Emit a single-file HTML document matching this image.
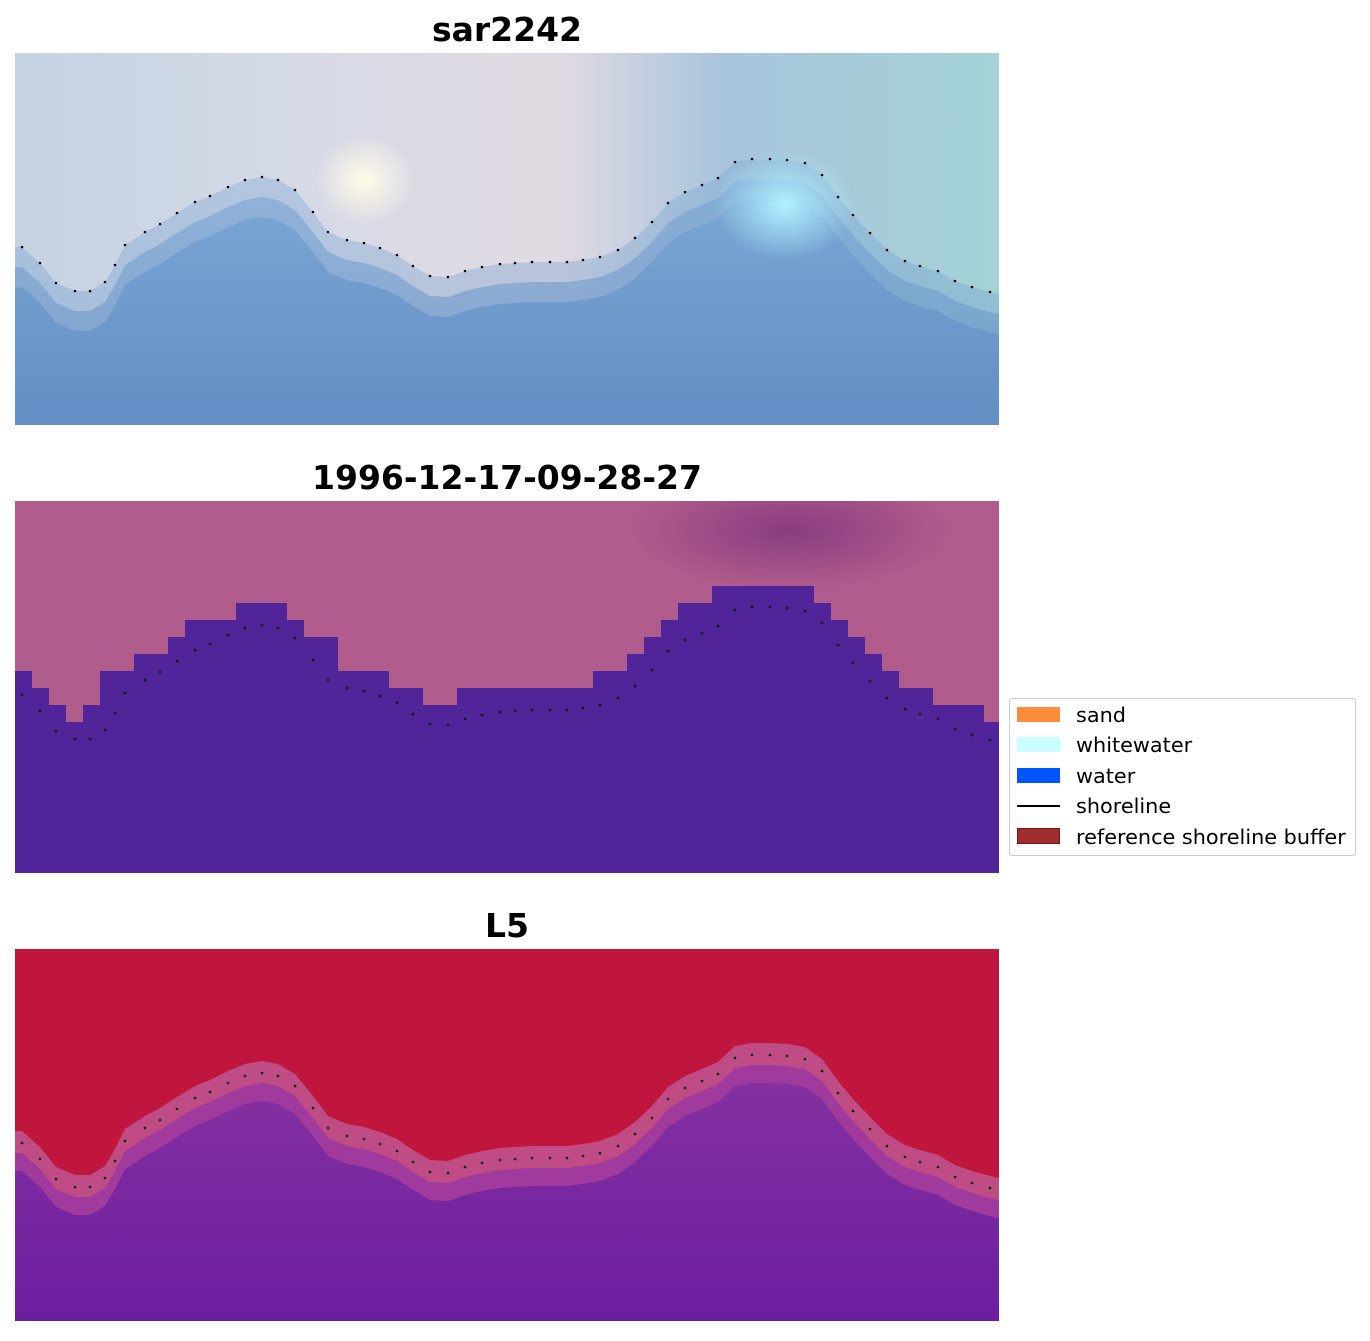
<!DOCTYPE html>
<html><head><meta charset="utf-8"><style>
body{margin:0;background:#fff;width:1370px;height:1337px;overflow:hidden;font-family:"DejaVu Sans","Liberation Sans",sans-serif}
</style></head><body>
<svg id="s" width="1370" height="1337" xmlns="http://www.w3.org/2000/svg">
<defs>
<clipPath id="c2"><rect x="15" y="501" width="984" height="372"/></clipPath>
<linearGradient id="t1" x1="0" x2="1" y1="0" y2="0">
<stop offset="0" stop-color="#c4d2e2"/><stop offset="0.3" stop-color="#d6dae6"/><stop offset="0.55" stop-color="#e2dae2"/><stop offset="0.72" stop-color="#a8c4dc"/><stop offset="1" stop-color="#a4d2d6"/></linearGradient>
<linearGradient id="b1" x1="0" x2="0" y1="0" y2="1">
<stop offset="0" stop-color="#7aa6d4"/><stop offset="1" stop-color="#628ec4"/></linearGradient>
<radialGradient id="g1"><stop offset="0" stop-color="#b0f0ff"/><stop offset="1" stop-color="#b0f0ff" stop-opacity="0"/></radialGradient>
<radialGradient id="g2"><stop offset="0" stop-color="#fffbe8"/><stop offset="1" stop-color="#fffbe8" stop-opacity="0"/></radialGradient>
<radialGradient id="g3"><stop offset="0" stop-color="#8a3c80"/><stop offset="1" stop-color="#8a3c80" stop-opacity="0"/></radialGradient>
<linearGradient id="b3" x1="0" x2="0" y1="0" y2="1">
<stop offset="0" stop-color="#8430a0"/><stop offset="1" stop-color="#6c1ea0"/></linearGradient>
</defs>
<g font-weight="bold" font-size="33" text-anchor="middle">
<text x="507" y="41">sar2242</text>
<text x="507" y="489">1996-12-17-09-28-27</text>
<text x="507" y="937">L5</text>
</g>
<g id="p"></g>
<rect x="1009.5" y="698.5" width="346" height="157" rx="3" fill="#fff" stroke="#ccc"/>
<rect x="1017" y="707" width="43" height="15" fill="#ff8c3b"/>
<rect x="1017" y="737" width="43" height="15" fill="#c8ffff"/>
<rect x="1017" y="768" width="43" height="15" fill="#0055ff"/>
<line x1="1017" x2="1060" y1="806" y2="806" stroke="#000" stroke-width="2"/>
<rect x="1017.5" y="828.5" width="42" height="15" fill="#a02c2c" stroke="#7a1515"/>
<g font-size="20.8">
<text x="1076" y="722">sand</text>
<text x="1076" y="752">whitewater</text>
<text x="1076" y="783">water</text>
<text x="1076" y="813">shoreline</text>
<text x="1076" y="844">reference shoreline buffer</text>
</g>
</svg>
<script>
var pts=[[15,247],[22,247],[40,263],[56,283],[75,291],[90,291],[105,282],[115,265],[125,245],[145,232],[160,224],[177,213],[195,202],[210,196],[228,187],[245,180],[262,177],[278,180],[295,190],[313,212],[328,232],[347,240],[364,243],[380,248],[397,255],[413,266],[430,276],[448,277],[465,271],[482,267],[500,264],[515,263],[532,262],[550,262],[567,262],[583,260],[600,257],[618,250],[635,238],[652,222],[668,203],[685,192],[702,185],[718,178],[735,162],[752,159],[770,159],[787,160],[805,163],[822,175],[838,197],[853,215],[870,233],[887,250],[905,261],[920,266],[938,271],[955,281],[972,287],[990,292],[999,294]];
var h='';
function poly(dy,off){return pts.map(function(p){return p[0]+','+(p[1]+dy+off)}).join(' ');}
function below(dy,off,fill,op){return '<polygon points="'+poly(dy,off)+' 999,'+(425+dy)+' 15,'+(425+dy)+'" fill="'+fill+'"'+(op?' opacity="'+op+'"':'')+'/>';}
h+='<rect x="15" y="53" width="984" height="372" fill="url(#t1)"/>';
h+='<ellipse cx="365" cy="180" rx="50" ry="45" fill="url(#g2)"/>';
h+=below(0,0,'url(#b1)',0.35)+below(0,20,'url(#b1)',0.6)+below(0,40,'url(#b1)');
h+='<ellipse cx="785" cy="205" rx="70" ry="55" fill="url(#g1)"/>';
h+='<rect x="15" y="501" width="984" height="372" fill="#b05c8c"/>';
h+='<ellipse cx="790" cy="530" rx="160" ry="60" fill="url(#g3)" clip-path="url(#c2)"/>';
var st='';var y0=448;
for(var x=15;x<999;x+=17){var m=1e9;pts.forEach(function(p){if(p[0]>=x-8&&p[0]<=x+25)m=Math.min(m,p[1]);});var yy=Math.round((m-22-53)/17)*17+53+y0;st+=x+','+yy+' '+Math.min(x+17,999)+','+yy+' ';}
h+='<polygon points="'+st+' 999,873 15,873" fill="#52249a"/>';
h+='<rect x="15" y="949" width="984" height="372" fill="#c0163e"/>';
h+=below(896,-12,'#c04c86')+below(896,10,'#a03a9c')+below(896,28,'url(#b3)');
[0,448,896].forEach(function(dy){pts.slice(1,-1).forEach(function(p){h+='<circle cx="'+p[0]+'" cy="'+(p[1]+dy)+'" r="1.3" fill="#000"/>';});});
document.getElementById('p').innerHTML=h;
</script>
</body></html>
